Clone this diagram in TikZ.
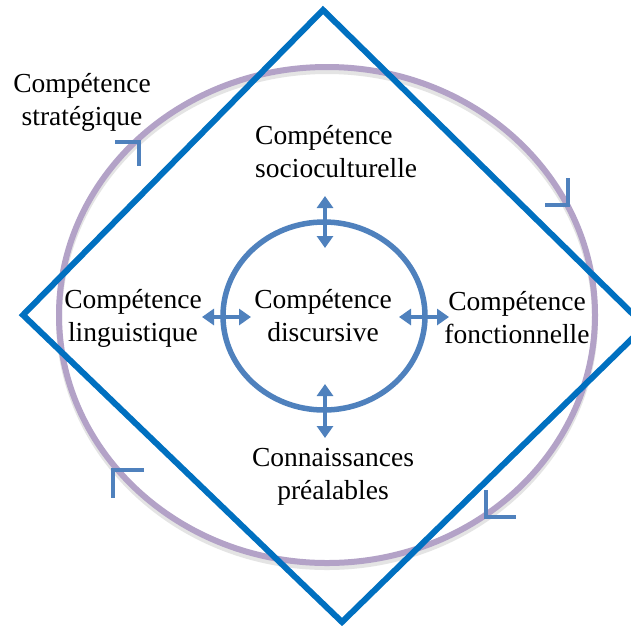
\documentclass[tikz,border=0pt]{standalone}
\usepackage{fontspec}
\setmainfont{Liberation Serif}
\usetikzlibrary{arrows.meta}
\definecolor{diam}{HTML}{0070C0}
\definecolor{lav}{HTML}{B3A2C7}
\definecolor{steel}{HTML}{4F81BD}
\tikzset{
  lbl/.style={align=center, inner sep=0pt, font=\fontsize{27.5}{33}\selectfont},
  dblarrow/.style={draw=steel, line width=4pt, {Triangle[length=12pt,width=16pt]}-{Triangle[length=12pt,width=16pt]}},
  cyclemark/.style={draw=steel, line width=4pt},
}
\begin{document}
\begin{tikzpicture}[x=1pt,y=-1pt]
\useasboundingbox (0,0) rectangle (631,625);
\fill[white] (0,0) rectangle (631,625);
% outer ellipse with faint shadow
\draw[black!30, opacity=0.35, line width=6pt] (327,319) ellipse [x radius=268, y radius=248];
\draw[lav, line width=6pt] (327,315) ellipse [x radius=268, y radius=248];
% cycle marks
\draw[cyclemark] (115,142) -- (139,142) -- (139,166);
\draw[cyclemark] (568,178) -- (568,205) -- (545,205);
\draw[cyclemark] (144,470) -- (113,470) -- (113,498);
\draw[cyclemark] (486,490) -- (486,517) -- (516,517);
% diamond
\begin{scope}
\clip (0,0) rectangle (631,625);
\draw[diam, line width=6pt, line join=miter] (323,10) -- (645,326) -- (342,622) -- (23,315) -- cycle;
\end{scope}
% inner circle
\draw[steel, line width=5.5pt] (324,316) ellipse [x radius=101, y radius=94];
% labels
\node[lbl] (strat) at (82,102) {Compétence\\stratégique};
\node[lbl, align=left, anchor=west] (socio) at (255,152) {Compétence\\socioculturelle};
\node[lbl] (ling) at (133,318) {Compétence\\linguistique};
\node[lbl] (disc) at (323,316) {Compétence\\discursive};
\node[lbl] (fonc) at (517,318) {Compétence\\fonctionnelle};
\node[lbl] (conn) at (333,477) {Connaissances\\préalables};
% arrow ends
\coordinate (u1) at (325,196); \coordinate (u2) at (325,248);
\coordinate (d1) at (325,384); \coordinate (d2) at (325,438);
\coordinate (l1) at (202,317); \coordinate (l2) at (251,317);
\coordinate (r1) at (399,317); \coordinate (r2) at (449,317);
\draw[dblarrow] (u1) -- (u2);
\draw[dblarrow] (d1) -- (d2);
\draw[dblarrow] (l1) -- (l2);
\draw[dblarrow] (r1) -- (r2);
\end{tikzpicture}
\end{document}
